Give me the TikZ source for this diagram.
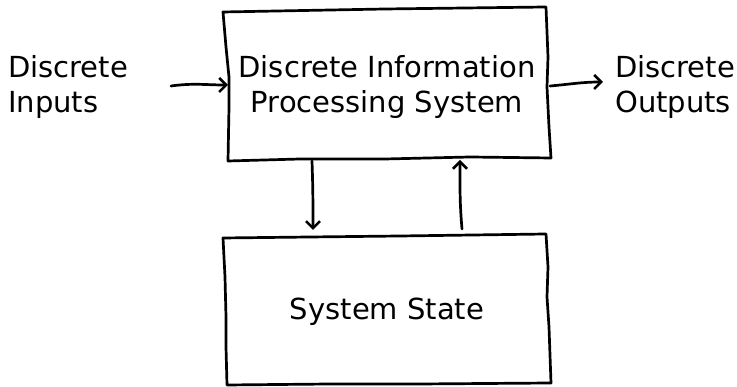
\documentclass[tikz,border=0pt]{standalone}
\usepackage{fontspec}
\setmainfont{DejaVu Sans}
\usetikzlibrary{arrows.meta}
\begin{document}
\begin{tikzpicture}[x=1pt,y=1pt,
  sketch/.style={line width=2.7pt, line cap=round, line join=round},
  arr/.style={sketch, -{Straight Barb[length=7pt,width=14pt,line width=2.5pt]}},
  lbl/.style={inner sep=0pt, font=\fontsize{29}{35}\selectfont, align=center},
  side/.style={lbl, align=left}]
\useasboundingbox (0,0) rectangle (737,387);
% text nodes
\node[side, anchor=west] (inputs) at (8,300) {Discrete\\Inputs};
\node[lbl] (dips) at (387,300) {Discrete Information\\Processing System};
\node[side, anchor=west] (outputs) at (615,300) {Discrete\\Outputs};
\node[lbl, anchor=base] (state) at (387,67) {System State};
% top box outline
\coordinate (t1) at (223,375);
\coordinate (t2) at (546,380);
\coordinate (t3) at (551,229);
\coordinate (t4) at (228,226);
\draw[sketch] (t1) -- (385,378) -- (t2) -- (548,330) -- (547,300) -- (549,260) -- (t3)
  -- (470,230) -- (385,228) -- (300,228) -- (t4) -- (229,280) -- (229,310) -- (226,340) -- cycle;
% bottom box outline
\coordinate (b1) at (223,149);
\coordinate (b2) at (546,153);
\coordinate (b3) at (551,4);
\coordinate (b4) at (227,2);
\draw[sketch] (b1) -- (310,150) -- (400,151) -- (b2) -- (548,120) -- (547,90) -- (549,60) -- (b3)
  -- (420,3) -- (330,3) -- (b4) -- (226,40) -- (226,70) -- (225,110) -- cycle;
% connector ends
\coordinate (inS) at (171,301);
\coordinate (inE) at (228,302);
\coordinate (outS) at (550,301);
\coordinate (outE) at (603,305);
\coordinate (dnS) at (312,226);
\coordinate (dnE) at (313,157);
\coordinate (upS) at (462,158);
\coordinate (upE) at (460,227);
\draw[arr] (inS) to[out=8,in=180] (inE);
\draw[arr] (outS) to[out=5,in=180] (outE);
\draw[arr] (dnS) to[out=-88,in=90] (dnE);
\draw[arr] (upS) to[out=95,in=-90] (upE);
\end{tikzpicture}
\end{document}
